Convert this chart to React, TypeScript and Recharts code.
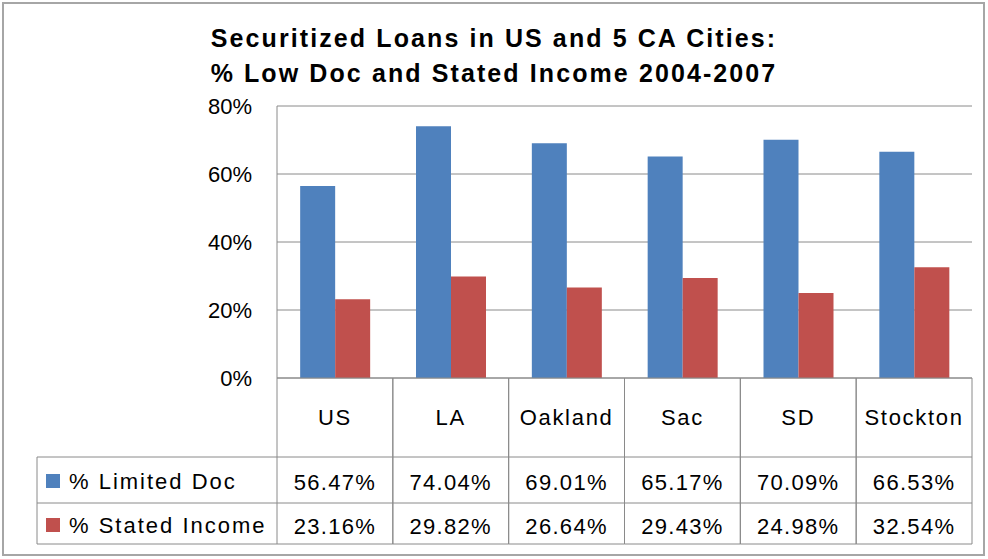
import { BarChart, Bar, XAxis, YAxis, CartesianGrid } from 'recharts';

const categories = ['US', 'LA', 'Oakland', 'Sac', 'SD', 'Stockton'];
const limitedDoc = [56.47, 74.04, 69.01, 65.17, 70.09, 66.53];
const statedIncome = [23.16, 29.82, 26.64, 29.43, 24.98, 32.54];
const yTicks = [0, 20, 40, 60, 80];

const seriesNames = ['% Limited Doc', '% Stated Income'];
const colors = ['#4F81BD', '#C0504D'];

const data = categories.map((name, i) => ({
  name,
  limited: limitedDoc[i],
  stated: statedIncome[i],
}));

const W = 988;
const H = 559;
const PLOT_LEFT = 277;
const PLOT_RIGHT = 972;
const COL_W = (PLOT_RIGHT - PLOT_LEFT) / categories.length;
const LEGEND_LEFT = 37;
const GRID = '#8a8a8a';
const FONT = "'Liberation Sans', Arial, sans-serif";

// rows of the data table, measured down from the x axis line
const CAT_ROW = 79;
const ROW1 = 125;
const ROW2 = 166;

function TableTick(props: any) {
  const { x, payload } = props;
  const i = payload.index;
  const top = 378;
  const left = x - COL_W / 2;
  const right = x + COL_W / 2;
  const txt = { fontFamily: FONT, fontSize: 22, fill: '#000', letterSpacing: 1.3 };
  return (
    <g>
      <line x1={left} x2={left} y1={top} y2={top + ROW2} stroke={GRID} />
      <line x1={right} x2={right} y1={top} y2={top + ROW2} stroke={GRID} />
      <line x1={left} x2={right} y1={top + CAT_ROW} y2={top + CAT_ROW} stroke={GRID} />
      <line x1={left} x2={right} y1={top + ROW1} y2={top + ROW1} stroke={GRID} />
      <line x1={left} x2={right} y1={top + ROW2} y2={top + ROW2} stroke={GRID} />
      <text x={x} y={top + 39} textAnchor="middle" dominantBaseline="central" {...txt} letterSpacing={1.7}>
        {payload.value}
      </text>
      <text x={x} y={top + 104} textAnchor="middle" dominantBaseline="central" {...txt}>
        {limitedDoc[i].toFixed(2)}%
      </text>
      <text x={x} y={top + 148} textAnchor="middle" dominantBaseline="central" {...txt}>
        {statedIncome[i].toFixed(2)}%
      </text>
      {i === 0 && (
        <g>
          <line x1={LEGEND_LEFT} x2={left} y1={top + CAT_ROW} y2={top + CAT_ROW} stroke={GRID} />
          <line x1={LEGEND_LEFT} x2={left} y1={top + ROW1} y2={top + ROW1} stroke={GRID} />
          <line x1={LEGEND_LEFT} x2={left} y1={top + ROW2} y2={top + ROW2} stroke={GRID} />
          <line x1={LEGEND_LEFT} x2={LEGEND_LEFT} y1={top + CAT_ROW} y2={top + ROW2} stroke={GRID} />
          {seriesNames.map((s, k) => {
            const cy = k === 0 ? top + 103 : top + 147;
            return (
              <g key={s}>
                <rect x={46} y={cy - 7} width={14} height={14} fill={colors[k]} />
                <text x={69} y={cy} dominantBaseline="central" {...txt} letterSpacing={2}>
                  {s}
                </text>
              </g>
            );
          })}
        </g>
      )}
    </g>
  );
}

export default function App() {
  return (
    <div style={{ position: 'absolute', left: 0, top: 0, width: W, height: H, background: '#fff' }}>
      <div
        style={{
          position: 'absolute',
          left: 2,
          top: 2,
          width: 983,
          height: 554,
          border: '2px solid #a6a6a6',
          boxSizing: 'border-box',
        }}
      />
      <div
        style={{
          position: 'absolute',
          left: 0,
          top: 21,
          width: W,
          textAlign: 'center',
          fontFamily: FONT,
          fontWeight: 'bold',
          fontSize: 25,
          lineHeight: '35px',
          letterSpacing: 2.1,
          color: '#000',
        }}
      >
        Securitized Loans in US and 5 CA Cities:
        <br />
        % Low Doc and Stated Income 2004-2007
      </div>
      <div style={{ position: 'absolute', left: 0, top: 0 }}>
        <BarChart
          width={W}
          height={H}
          data={data}
          margin={{ top: 106, right: W - PLOT_RIGHT, bottom: 11, left: PLOT_LEFT - 80 }}
          barCategoryGap="20%"
          barGap={0}
        >
          <CartesianGrid vertical={false} stroke={GRID} />
          <XAxis
            dataKey="name"
            height={170}
            tickLine={false}
            tickSize={0}
            axisLine={{ stroke: GRID }}
            tick={(p: any) => <TableTick {...p} />}
            interval={0}
          />
          <YAxis
            width={80}
            domain={[0, 80]}
            ticks={yTicks}
            tickFormatter={(v) => `${v}%`}
            tickLine={false}
            tickSize={0}
            tickMargin={25}
            axisLine={{ stroke: GRID }}
            tick={{ fontFamily: FONT, fontSize: 22, fill: '#000' }}
          />
          <YAxis
            yAxisId="right"
            orientation="right"
            width={0}
            domain={[0, 80]}
            tick={false}
            tickLine={false}
            axisLine={{ stroke: GRID }}
          />
          <Bar dataKey="limited" name={seriesNames[0]} fill={colors[0]} isAnimationActive={false} />
          <Bar dataKey="stated" name={seriesNames[1]} fill={colors[1]} isAnimationActive={false} />
        </BarChart>
      </div>
    </div>
  );
}
